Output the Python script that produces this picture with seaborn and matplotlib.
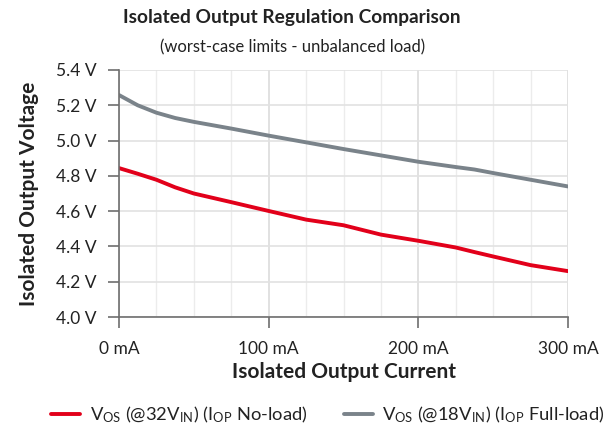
import numpy as np
import pandas as pd
import seaborn as sns
import matplotlib.pyplot as plt
from matplotlib.ticker import MultipleLocator, FuncFormatter

# ---------- data ----------
current_ma = [0, 12.5, 25, 37.5, 50, 75, 100, 125, 150, 175, 200, 225, 237.5, 250, 275, 300]
vos_32vin_noload = [4.844, 4.812, 4.778, 4.735, 4.700, 4.651, 4.601, 4.552, 4.520, 4.467,
                    4.432, 4.394, 4.368, 4.343, 4.294, 4.260]
vos_18vin_fullload = [5.258, 5.200, 5.158, 5.128, 5.106, 5.068, 5.028, 4.990, 4.952, 4.916,
                      4.880, 4.850, 4.836, 4.816, 4.778, 4.740]

label_red = r"V$_{\mathregular{OS}}$ (@32V$_{\mathregular{IN}}$) (I$_{\mathregular{OP}}$ No-load)"
label_gray = r"V$_{\mathregular{OS}}$ (@18V$_{\mathregular{IN}}$) (I$_{\mathregular{OP}}$ Full-load)"

df = pd.DataFrame({
    "current": current_ma * 2,
    "voltage": vos_32vin_noload + vos_18vin_fullload,
    "series": [label_red] * len(current_ma) + [label_gray] * len(current_ma),
})

sns.set_theme(style="white")
plt.rcParams["font.family"] = ["Lato", "DejaVu Sans"]
plt.rcParams["mathtext.fontset"] = "custom"
plt.rcParams["mathtext.rm"] = "Lato"
plt.rcParams["mathtext.it"] = "Lato"
plt.rcParams["mathtext.bf"] = "Lato:bold"

txt = "#222222"
fig = plt.figure(figsize=(6.15, 4.3), dpi=100)
ax = fig.add_axes([119 / 615, 1 - 317 / 430, (568 - 119) / 615, (317 - 70) / 430])

sns.lineplot(data=df, x="current", y="voltage", hue="series",
             palette={label_red: "#e2001a", label_gray: "#7a838a"},
             linewidth=2.8, ax=ax, legend=False)

ax.set_xlim(0, 300)
ax.set_ylim(4.0, 5.4)
ax.xaxis.set_major_locator(MultipleLocator(100))
ax.xaxis.set_minor_locator(MultipleLocator(25))
ax.yaxis.set_major_locator(MultipleLocator(0.2))
ax.xaxis.set_major_formatter(FuncFormatter(lambda v, p: f"{v:.0f} mA"))
ax.yaxis.set_major_formatter(FuncFormatter(lambda v, p: f"{v:.1f} V"))
ax.grid(which="major", axis="x", color="#dcdcdc", lw=1.2)
ax.grid(which="minor", axis="x", color="#ececec", lw=1.0)
ax.grid(which="major", axis="y", color="#e2e2e2", lw=1.2)
ax.set_axisbelow(True)

for s in ["top", "right"]:
    ax.spines[s].set_visible(False)
for s in ["left", "bottom"]:
    ax.spines[s].set_color("#6e6e6e")
    ax.spines[s].set_linewidth(1.2)
ax.tick_params(which="major", direction="out", length=8, width=1.2, color="#6e6e6e",
               labelsize=12.5, labelcolor=txt, left=True, bottom=True)
ax.tick_params(axis="x", pad=9)
ax.tick_params(axis="y", pad=8)
ax.tick_params(which="minor", length=0)

ax.set_xlabel("Isolated Output Current", fontsize=15, fontweight="bold", color=txt, labelpad=4)
ax.set_ylabel("Isolated Output Voltage", fontsize=15, fontweight="bold", color=txt, labelpad=12)

fig.text(0.475, 1 - 17 / 430, "Isolated Output Regulation Comparison", ha="center", va="center",
         fontsize=13.8, fontweight="bold", color=txt)
fig.text(0.475, 1 - 47 / 430, "(worst-case limits - unbalanced load)", ha="center", va="center",
         fontsize=12, color=txt)

handles = [plt.Line2D([], [], color="#e2001a", lw=2.8), plt.Line2D([], [], color="#7a838a", lw=2.8)]
fig.legend(handles, [label_red, label_gray], loc="center", bbox_to_anchor=(0.533, 1 - 415 / 430),
           ncol=2, frameon=False, fontsize=13.2, handlelength=1.6, handletextpad=0.5,
           columnspacing=2.0, labelcolor=txt)

fig.savefig("out.png", dpi=100)
